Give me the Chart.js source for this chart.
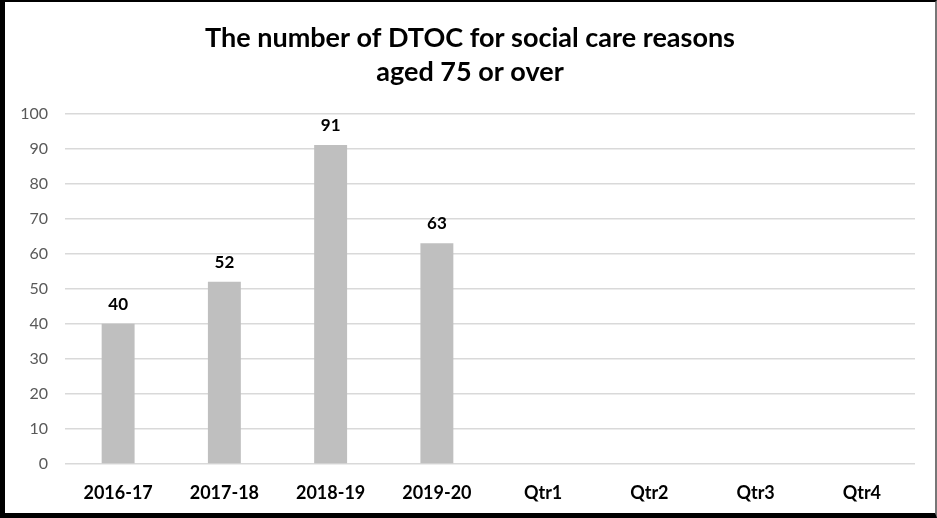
<!DOCTYPE html>
<html>
<head>
<meta charset="utf-8">
<script src="https://cdn.jsdelivr.net/npm/chart.js@4.4.0/dist/chart.umd.min.js"></script>
<style>
  html, body { margin: 0; padding: 0; background: #fff; }
  #box {
    width: 937px; height: 518px; box-sizing: border-box;
    border-top: 2px solid #000; border-left: 5px solid #000;
    border-bottom: 5px solid #000; border-right: 2px solid #777;
  }
  canvas { display: block; }
</style>
</head>
<body>
<div id="box"><canvas id="grafico" width="930" height="511"></canvas></div>
<script>
const categorias = ['2016-17', '2017-18', '2018-19', '2019-20', 'Qtr1', 'Qtr2', 'Qtr3', 'Qtr4'];
const valores = [40, 52, 91, 63, null, null, null, null];
const titulo = ['The number of DTOC for social care reasons', 'aged 75 or over'];

// etiquetas encima de cada barra
const etiquetas = {
    id: 'etiquetas',
    afterDatasetsDraw(chart) {
        const ctx = chart.ctx;
        const meta = chart.getDatasetMeta(0);
        ctx.save();
        ctx.font = 'bold 17px Lato';
        ctx.fillStyle = '#000';
        ctx.textAlign = 'center';
        ctx.textBaseline = 'bottom';
        meta.data.forEach((bar, i) => {
            if (valores[i] == null) return;
            ctx.fillText(valores[i], bar.x, bar.y - 11);
        });
        ctx.restore();
    }
};

const ctx = document.getElementById('grafico').getContext('2d');
new Chart(ctx, {
    type: 'bar',
    data: {
        labels: categorias,
        datasets: [{
            data: valores,
            backgroundColor: '#bfbfbf',
            borderWidth: 0,
            barPercentage: 0.62,
            categoryPercentage: 0.5
        }]
    },
    options: {
        responsive: false,
        animation: false,
        layout: { padding: 0 },
        plugins: {
            legend: { display: false },
            tooltip: { enabled: false },
            title: {
                display: true,
                text: titulo,
                color: '#000',
                font: { family: 'Lato', size: 27, weight: 'bold', lineHeight: 1.27 },
                padding: { top: 19, bottom: 24 }
            }
        },
        scales: {
            y: {
                min: 0,
                max: 100,
                ticks: { stepSize: 10, color: '#595959', padding: 17, font: { family: 'Lato', size: 16 } },
                grid: { color: '#d9d9d9', lineWidth: 1.5, drawTicks: false },
                border: { display: false },
                afterFit(scale) { scale.width = 60; }
            },
            // eje vacio a la derecha, solo para dejar margen
            margen: {
                position: 'right',
                ticks: { display: false },
                grid: { display: false, drawTicks: false },
                border: { display: false },
                afterFit(scale) { scale.width = 20; }
            },
            x: {
                ticks: { color: '#000', padding: 18, font: { family: 'Lato', size: 18, weight: 'bold' } },
                grid: { display: false, drawTicks: false },
                border: { display: false },
                afterFit(scale) { scale.height = 49; }
            }
        }
    },
    plugins: [etiquetas]
});
</script>
</body>
</html>
